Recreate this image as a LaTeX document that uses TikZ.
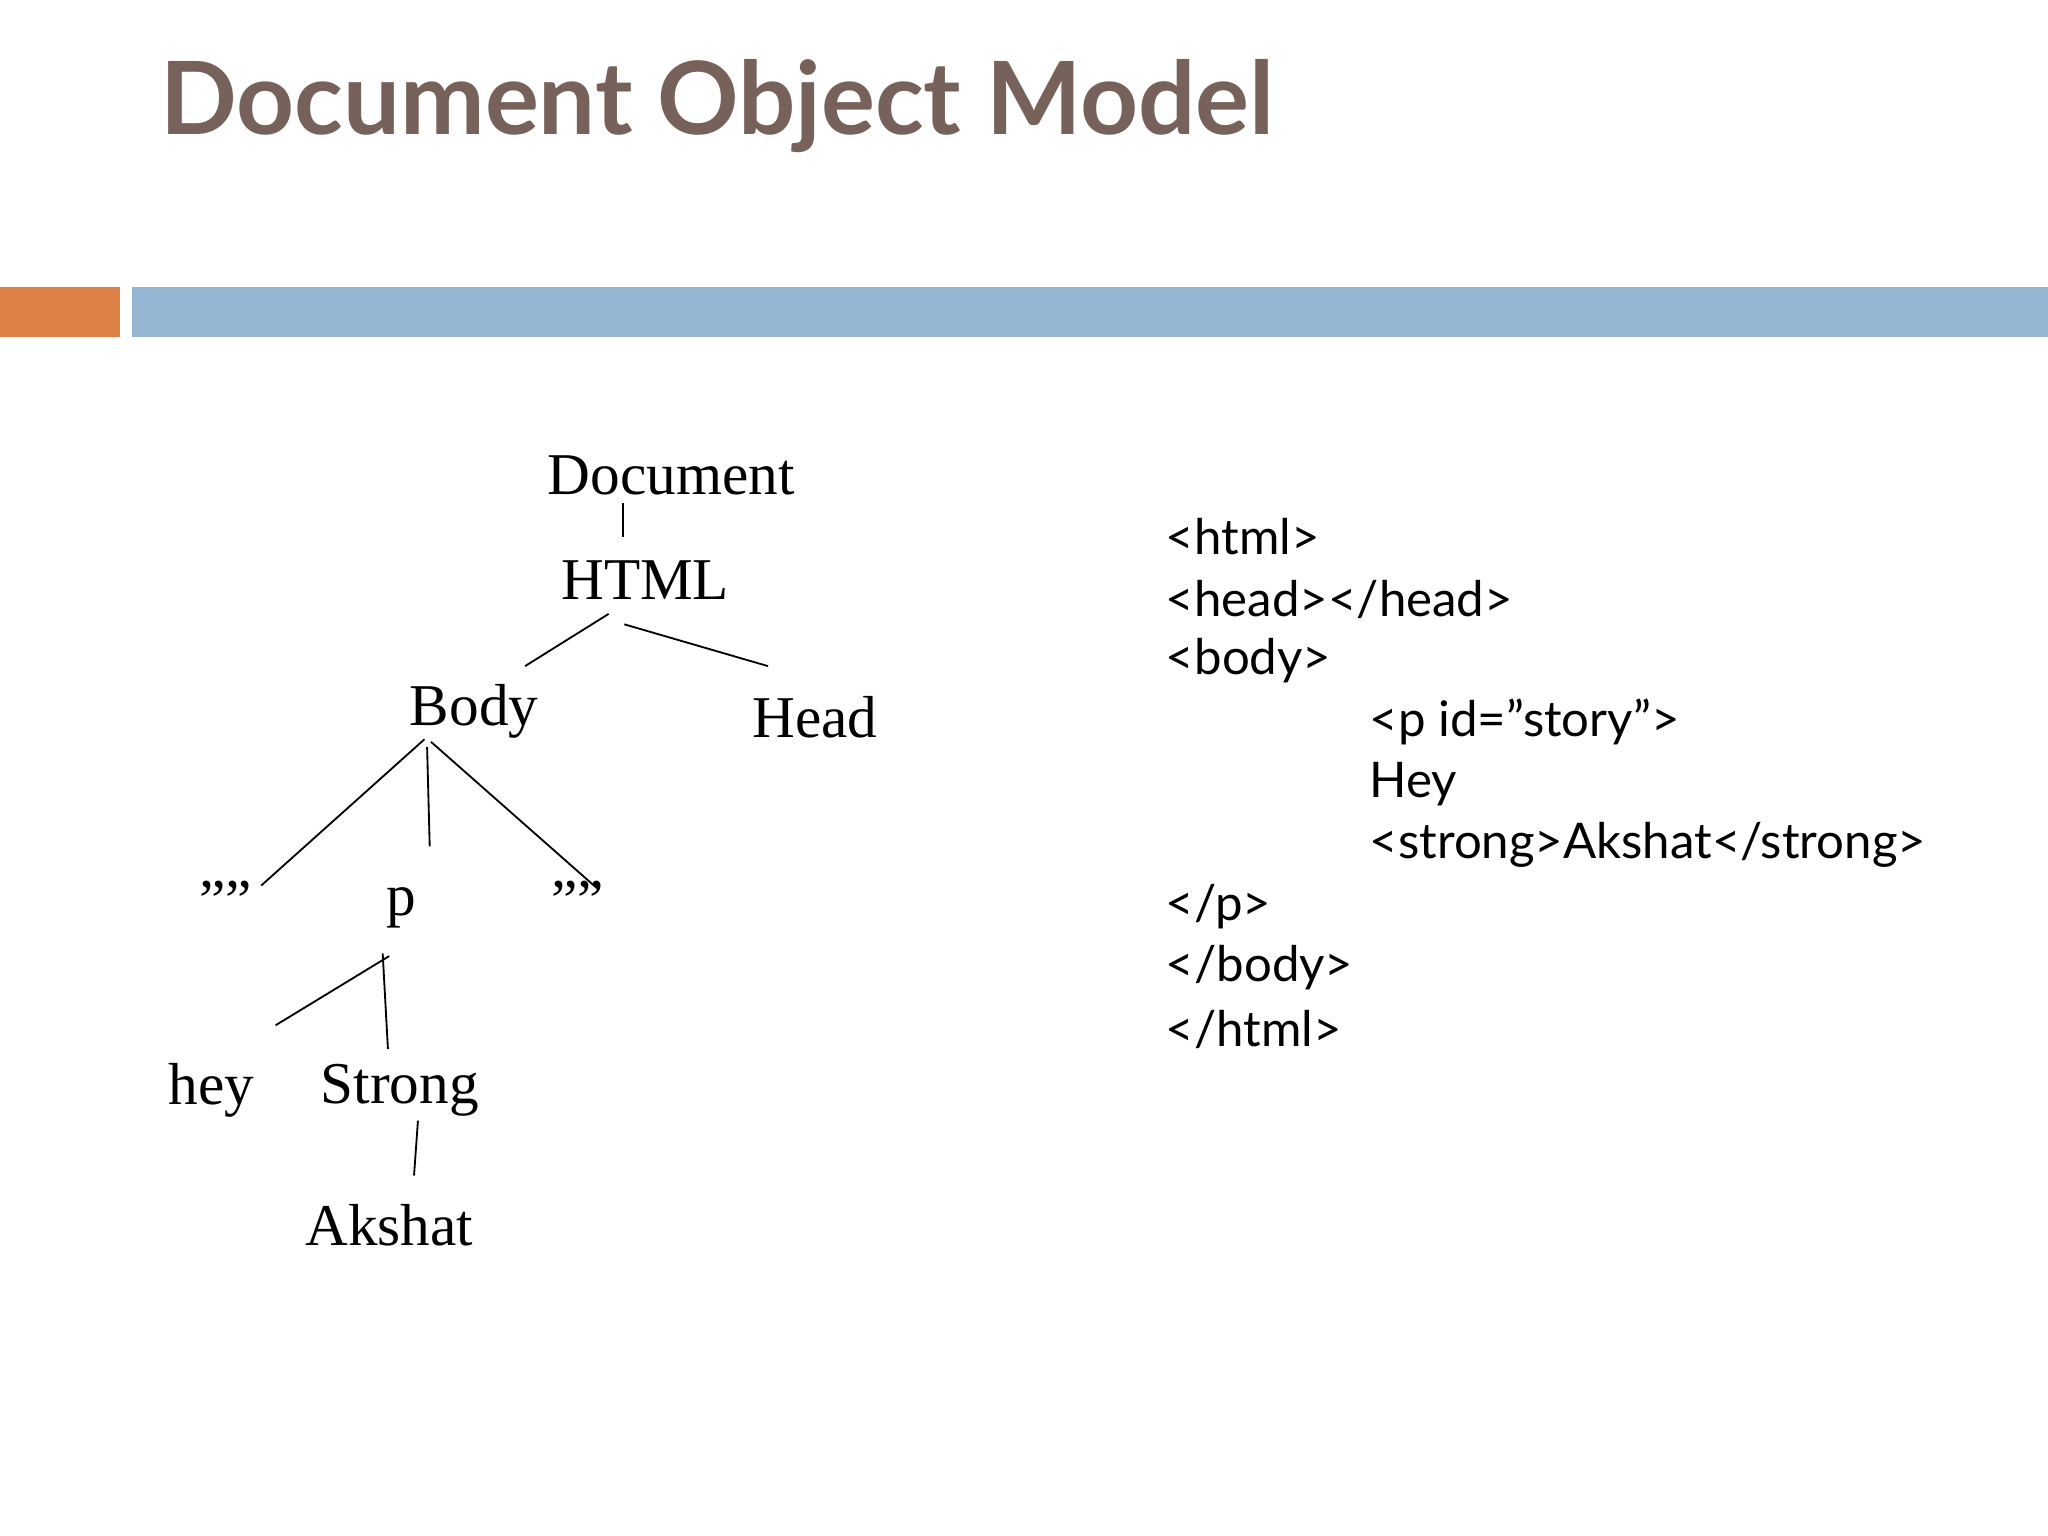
\documentclass[tikz,border=0pt]{standalone}
\usepackage{fontspec}
\setmainfont{Liberation Serif}
\newfontfamily\titlefont{Lato}
\newfontfamily\codefont{Lato}
\definecolor{titlec}{HTML}{76625A}
\definecolor{orangec}{HTML}{DD8047}
\definecolor{bluec}{HTML}{94B6D2}
\begin{document}
\begin{tikzpicture}[x=0.01cm,y=-0.01cm,
  tn/.style={font=\fontsize{12.9}{14}\selectfont, inner sep=0pt},
  cl/.style={font=\codefont\fontsize{10.7}{12}\selectfont, anchor=west, inner sep=0pt},
  edge/.style={draw=black, line width=0.4pt}]
\useasboundingbox[fill=white] (0,0) rectangle (1568,1176);
\node[font=\titlefont\bfseries\fontsize{22}{24}\selectfont, text=titlec, anchor=base west, inner sep=0pt] (title) at (122,103) {Document Object Model};
\fill[orangec] (0,220) rectangle (92,258);
\fill[bluec] (101,220) rectangle (1568,258);
% tree nodes
\node[tn] (doc) at (514,364) {Document};
\node[tn] (html) at (494,444) {HTML};
\node[tn] (body) at (363,545) {Body};
\node[tn] (head) at (624,549) {Head};
\node[tn] (e1) at (173,690) {""};
\node[tn] (p) at (307,695) {p};
\node[tn] (e2) at (442,690) {""};
\node[tn] (hey) at (162,835) {hey};
\node[tn] (strong) at (306,835) {Strong};
\node[tn] (akshat) at (298,938) {Akshat};
% connector endpoints
\coordinate (c1) at (477,385); \coordinate (c2) at (477,411);
\coordinate (c3) at (466,470); \coordinate (c4) at (402,510);
\coordinate (c5) at (478,478); \coordinate (c6) at (588,510);
\coordinate (c7) at (325,566); \coordinate (c8) at (200,678);
\coordinate (c9) at (327,572); \coordinate (c10) at (329,648);
\coordinate (c11) at (330,568); \coordinate (c12) at (457,680);
\coordinate (c13) at (298,732); \coordinate (c14) at (211,785);
\coordinate (c15) at (293,730); \coordinate (c16) at (297,803);
\coordinate (c17) at (320,858); \coordinate (c18) at (317,900);
\draw[edge] (c1) -- (c2);
\draw[edge] (c3) -- (c4);
\draw[edge] (c5) -- (c6);
\draw[edge] (c7) -- (c8);
\draw[edge] (c9) -- (c10);
\draw[edge] (c11) -- (c12);
\draw[edge] (c13) -- (c14);
\draw[edge] (c15) -- (c16);
\draw[edge] (c17) -- (c18);
% code
\node[cl] (l1) at (892,411) {<html>};
\node[cl] (l2) at (892,459) {<head></head>};
\node[cl] (l3) at (892,506) {<body>};
\node[cl] (l4) at (1048,553) {<p id=”story”>};
\node[cl] (l5) at (1048,600) {Hey};
\node[cl] (l6) at (1048,647) {<strong>Akshat</strong>};
\node[cl] (l7) at (892,694) {</p>};
\node[cl] (l8) at (892,741) {</body>};
\node[cl] (l9) at (892,788) {</html>};
\end{tikzpicture}
\end{document}
